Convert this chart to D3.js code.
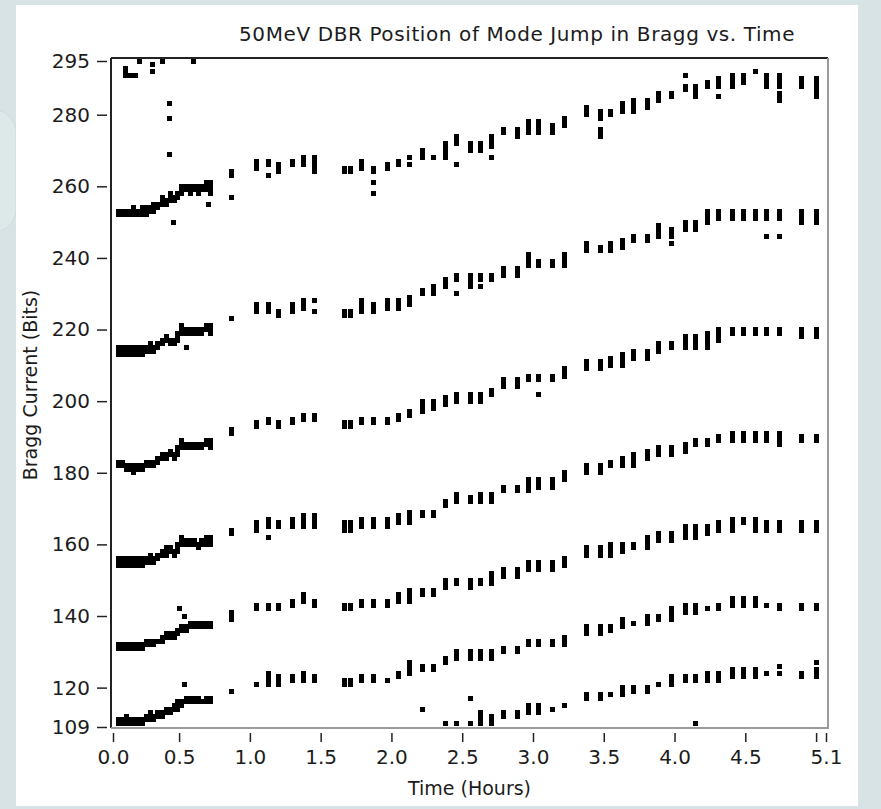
<!DOCTYPE html>
<html>
<head>
<meta charset="utf-8">
<script src="https://cdn.jsdelivr.net/npm/d3@7/dist/d3.min.js"></script>
<style>
  html, body { margin: 0; padding: 0; background: #d7e3e4; }
  svg { display: block; }
  text { font-family: "DejaVu Sans", sans-serif; fill: #1c1c1c; }
</style>
</head>
<body>
<svg id="chart" width="881" height="809"></svg>
<script>
// ---- data (Bragg current in bits, time in hours) ----

// axis limits and tick labels
const xMin = 0.033, xMax = 5.07;
const yMin = 109, yMax = 295;
const xTicks = [0.033, 0.5, 1.0, 1.5, 2.0, 2.5, 3.0, 3.5, 4.0, 4.5, 5.0, 5.07];
const xTickLabels = ["0.0", "0.5", "1.0", "1.5", "2.0", "2.5", "3.0", "3.5", "4.0", "4.5", "", "5.1"];
const yTicks = [109, 120, 140, 160, 180, 200, 220, 240, 260, 280, 295];
const yTickLabels = ["109", "120", "140", "160", "180", "200", "220", "240", "260", "280", "295"];

// first half hour is sampled densely
const denseTimes = [0.07, 0.10, 0.13, 0.15, 0.18, 0.21, 0.24, 0.27, 0.30, 0.32, 0.35, 0.38,
                    0.41, 0.44, 0.47, 0.49, 0.52, 0.55, 0.58, 0.61, 0.64, 0.66, 0.69, 0.72];

// after that one sweep roughly every 5 minutes
const sparseTimes = [0.87, 1.05, 1.13, 1.20, 1.30, 1.38, 1.46, 1.67, 1.71, 1.79, 1.87, 1.97,
                     2.05, 2.13, 2.22, 2.30, 2.38, 2.46, 2.56, 2.63, 2.71, 2.79, 2.89, 2.97,
                     3.04, 3.14, 3.22, 3.38, 3.48, 3.55, 3.63, 3.71, 3.81, 3.89, 3.98, 4.08,
                     4.15, 4.23, 4.31, 4.41, 4.49, 4.57, 4.65, 4.74, 4.90, 5.00];

// mode jump positions, one list of values per sample (top band first)
const band1Dense = [[252,253],[252,253],[252,253],[252,253],[252,253,254],[252,253],[252,253,254],[252,253,254],
  [253,254],[253,254,255],[254,255],[255,256,257],[255,256],[256,257,258],[256,257],[257,258],
  [258,259,260],[259,260],[258,259,260],[259,260],[258,259,260],[259,260],[259,260,261],[258,259,260,261]];
const band2Dense = [[213,214,215],[213,214,215],[213,214,215],[213,214,215],[213,214,215],[213,214,215],[213,214,215],[214,215],
  [214,215,216],[214,215],[215,216],[216,217],[217,218],[216,217],[216,217],[217,218,219],
  [219,220,221],[219,220],[219,220],[219,220],[219,220],[219,220],[220,221],[219,220,221]];
const band3Dense = [[182,183],[182,183],[181,182],[181,182],[180,181,182],[181,182],[181,182],[182,183],
  [182,183],[182,183],[183,184],[184,185],[184,185],[185,186],[184,185],[185,186,187],
  [187,188,189],[187,188],[187,188],[187,188],[187,188],[187,188],[188,189],[187,188,189]];
const band4Dense = [[154,155,156],[154,155,156],[154,155,156],[154,155,156],[154,155,156],[154,155,156],[154,155,156],[155,156],
  [155,156,157],[155,156],[156,157],[157,158],[157,158,159],[158,159],[157,158],[158,159,160],
  [160,161,162],[160,161],[160,161],[160,161],[159,160],[160,161],[160,161,162],[160,161,162]];
const band5Dense = [[131,132],[131,132],[131,132],[131,132],[131,132],[131,132],[131,132],[132,133],
  [132,133],[132,133],[133],[133,134],[134,135],[134,135],[134,135],[135,136],
  [136,137],[136,137],[137,138],[137,138],[137,138],[137,138],[137,138],[137,138]];
const band6Dense = [[110,111],[110,111],[110,111,112],[110,111],[110,111],[110,111],[110,111],[111,112],
  [111,112,113],[111,112],[112,113],[112,113],[113,114],[113,114],[114,115],[114,115,116],
  [115,116],[116,117],[116,117],[116,117],[116,117],[116],[116,117],[116,117]];

const band1Sparse = [[257,263,264],[265,266,267],[263,266,267],[264,265,266],[266,267],[266,267,268],[264,265,266,267,268],
  [264,265],[264,265],[265,266,267],[258,261,264,265],[265,266],[266,267],[266,268],[268,269,270],[268],
  [268,269,270,271,272],[266,272,273,274],[270,271,272],[270,271,272],[268,271,272,273,274],[275,276],[274,275,276],
  [275,276,277,278],[275,276,277,278],[275,276,277],[277,278,279],[280,281,282],[274,275,276,279,280,281],[280,281],
  [281,282,283],[281,282,283,284],[282,283,284],[284,285,286],[285,286],[287,288,291],[285,286,287,288],[288,289],
  [285,288,289,290],[288,289,290,291],[289,290,291],[292],[288,289,290,291],[284,285,286,288,289,290,291],
  [288,289,290],[285,286,287,288,289,290]];
const band2Sparse = [[223],[225,226,227],[225,226,227],[224,225],[225,226,227],[226,227,228],[225,228],
  [224,225],[224,225],[225,226,227,228],[225,226,227],[226,227,228],[226,227,228],[227,228,229],[230,231],[230,231,232],
  [232,233,234],[230,234,235],[232,233,234,235],[232,234,235],[234,235],[235,236,237],[235,236,237],
  [238,239,240,241],[238,239],[238,239],[238,239,240,241],[242,243,244],[242,243],[242,243,244],
  [243,244,245],[245,246],[245,246],[246,247,248,249],[244,246,247,248],[248,249,250],[248,249,250],[250,251,252,253],
  [251,252,253],[251,252,253],[251,252,253],[251,252,253],[246,251,252,253],[246,251,252,253],
  [250,251,252,253],[250,251,252,253]];
const band3Sparse = [[191,192],[193,194],[194,195],[193,194],[194,195],[195,196],[195,196],
  [193,194],[193,194],[194,195],[194,195],[194,195],[195,196],[196,197],[197,198,199,200],[198,199,200],
  [199,200,201],[200,201,202],[200,201,202],[200,201,202],[202,203],[204,205,206],[204,205,206],
  [206,207],[202,206,207],[206,207],[207,208,209],[209,210,211],[209,210,211],[210,211,212],
  [210,211,212,213],[212,213,214],[212,213,214],[214,215,216],[215,216],[215,216,217,218],[215,216,217,218],[215,216,217,218,219],
  [217,218,219,220],[219,220],[219,220],[219,220],[219,220],[219,220],
  [218,219,220],[218,219,220]];
const band4Sparse = [[163,164],[164,165,166],[162,165,166,167],[165,166],[165,166,167],[165,166,167,168],[165,166,167,168],
  [164,165,166],[164,165,166],[165,166,167],[165,166,167],[165,166,167],[166,167,168],[166,167,168,169],[168,169],[168,169],
  [171,172],[172,173,174],[172,173],[172,173,174],[172,173,174],[175,176],[175,176],
  [175,176,177,178],[176,177,178],[176,177,178],[178,179,180],[180,181,182],[180,181,182],[182,183],
  [182,183,184],[182,183,184,185],[184,185,186],[185,186,187],[185,186,187],[186,187,188],[188,189],[188,189],
  [189,190],[189,190,191],[189,190,191],[189,190,191],[189,190,191],[188,189,190,191],
  [189,190],[189,190]];
const band5Sparse = [[139,140,141],[142,143],[142,143],[142,143],[143,144],[144,145,146],[143,144],
  [142,143],[142,143],[143,144],[143,144],[143,144],[144,145,146],[144,145,146,147],[146,147],[146,147],
  [148,149,150],[149,150],[148,149,150],[149,150],[149,150,151,152],[151,152,153],[151,152,153],
  [153,154,155],[153,154,155],[153,154,155],[154,155,156],[157,158,159],[157,158,159],[157,158,159,160],
  [158,159,160],[159,160],[159,160,161,162],[161,162,163],[161,162,163],[162,163,164,165],[162,163,164,165],[163,164,165],
  [164,165,166],[164,165,166,167],[166,167],[164,165,166,167],[164,165,166],[164,165,166],
  [164,165,166],[164,165,166]];
const band6Sparse = [[119],[121],[121,122,123,124],[121,122,123],[122,123],[122,123,124],[122,123],
  [121,122],[121,122],[122,123],[122,123],[122],[123,124],[124,125,126,127],[125,126],[125,126],
  [127,128],[128,129,130],[128,129,130],[128,129,130],[128,129,130],[130,131],[130,131],
  [132,133],[132,133],[132,133],[132,133,134],[135,136,137],[135,136,137],[136,137],
  [137,138,139],[138],[138,139,140],[139,140],[139,140,141,142],[141,142,143],[141,142,143],[142],
  [142,143],[143,144,145],[143,144,145],[143,144,145],[143],[142,143],
  [142,143],[142,143]];
const band7Sparse = [[],[],[],[],[],[],[],
  [],[],[],[],[],[],[],[114],[],
  [110],[110],[110,117],[110,111,112,113],[110,111,112],[112,113],[112,113],
  [113,114,115],[113,114,115],[114],[115],[117,118],[117,118],[118],
  [118,119,120],[119,120],[119,120],[121],[121,122,123],[122,123],[110,122,123],[122,123,124],
  [122,123,124],[123,124,125],[123,124,125],[123,124,125],[124],[124,126],
  [123,124],[123,124,125,127]];

// stray readings (top band leaving the chart, and odd jumps) as [time, bits]
const strays = [[0.12,291],[0.12,292],[0.12,293],[0.16,291],[0.19,291],[0.22,295],[0.31,292],[0.31,294],
  [0.385,295],[0.60,295],[0.43,269],[0.43,279],[0.43,283],[0.46,250],[0.71,255],[0.55,215],
  [0.50,142],[0.54,140],[0.54,121]];

// ---- drawing ----
const W = 881, H = 809;
const plot = {left: 111, top: 58, right: 828, bottom: 728};

let svg = d3.select("#chart");

// desktop backdrop and the white panel
svg.append("rect").attr("width", W).attr("height", H).attr("fill", "#d7e3e4");
svg.append("rect")
    .attr("x", -30).attr("y", 110).attr("width", 46).attr("height", 122).attr("rx", 22)
    .attr("fill", "#dde8e9").attr("stroke", "#cddbdc");
svg.append("rect")
    .attr("x", 16).attr("y", 5).attr("width", 842).attr("height", 801)
    .attr("fill", "#ffffff");

let x = d3.scaleLinear().domain([xMin, xMax]).range([113, 826]);
let y = d3.scaleLinear().domain([yMin, yMax]).range([727, 61]);

// flatten every band into single points
let points = [];
let denseBands = [band1Dense, band2Dense, band3Dense, band4Dense, band5Dense, band6Dense];
let sparseBands = [band1Sparse, band2Sparse, band3Sparse, band4Sparse, band5Sparse, band6Sparse, band7Sparse];
denseBands.forEach(b => b.forEach((vals, i) => vals.forEach(v => points.push({t: denseTimes[i], v: v}))));
sparseBands.forEach(b => b.forEach((vals, i) => vals.forEach(v => points.push({t: sparseTimes[i], v: v}))));
strays.forEach(d => points.push({t: d[0], v: d[1]}));

svg.append("clipPath").attr("id", "plot-clip")
    .append("rect")
    .attr("x", plot.left + 1).attr("y", plot.top + 1)
    .attr("width", plot.right - plot.left - 2).attr("height", plot.bottom - plot.top - 2);

// plot frame: dark top/left, grey bottom/right
let frame = svg.append("g");
frame.append("line").attr("x1", plot.left).attr("x2", plot.right).attr("y1", plot.top).attr("y2", plot.top)
    .attr("stroke", "#222").attr("stroke-width", 2);
frame.append("line").attr("x1", plot.left).attr("x2", plot.left).attr("y1", plot.top).attr("y2", plot.bottom)
    .attr("stroke", "#222").attr("stroke-width", 2);
frame.append("line").attr("x1", plot.left).attr("x2", plot.right).attr("y1", plot.bottom).attr("y2", plot.bottom)
    .attr("stroke", "#9a9a9a").attr("stroke-width", 2);
frame.append("line").attr("x1", plot.right).attr("x2", plot.right).attr("y1", plot.top).attr("y2", plot.bottom + 1)
    .attr("stroke", "#9a9a9a").attr("stroke-width", 2);

// the markers: small filled squares
const ms = 5;
svg.append("g")
    .attr("clip-path", "url(#plot-clip)")
    .attr("shape-rendering", "crispEdges")
    .selectAll("rect")
    .data(points)
    .join("rect")
    .attr("x", d => Math.round(x(d.t) - ms / 2))
    .attr("y", d => Math.round(y(d.v) - ms / 2))
    .attr("width", ms)
    .attr("height", ms)
    .attr("fill", "#000");

// y axis, ticks float a little left of the frame
let yAxis = d3.axisLeft(y)
    .tickValues(yTicks)
    .tickFormat((d, i) => yTickLabels[i])
    .tickSize(10)
    .tickPadding(7);
let gy = svg.append("g").attr("transform", "translate(107,0)").call(yAxis);
gy.select(".domain").remove();
gy.selectAll("line").attr("stroke", "#222").attr("stroke-width", 1.5);
gy.selectAll("text").attr("font-size", 20).attr("font-family", "DejaVu Sans").attr("fill", "#1c1c1c");

// x axis
let xAxis = d3.axisBottom(x)
    .tickValues(xTicks)
    .tickFormat((d, i) => xTickLabels[i])
    .tickSize(9)
    .tickPadding(8);
let gx = svg.append("g").attr("transform", "translate(0,733)").call(xAxis);
gx.select(".domain").remove();
gx.selectAll("line").attr("stroke", "#222").attr("stroke-width", 1.5);
gx.selectAll("text").attr("font-size", 20).attr("font-family", "DejaVu Sans").attr("fill", "#1c1c1c");

// titles
svg.append("text")
    .attr("x", 239).attr("y", 41)
    .attr("font-size", 20)
    .attr("letter-spacing", 0.6)
    .text("50MeV DBR Position of Mode Jump in Bragg vs. Time");

svg.append("text")
    .attr("x", (113 + 826) / 2).attr("y", 795)
    .attr("text-anchor", "middle")
    .attr("font-size", 19)
    .text("Time (Hours)");

svg.append("text")
    .attr("transform", "translate(37,385) rotate(-90)")
    .attr("text-anchor", "middle")
    .attr("font-size", 19)
    .text("Bragg Current (Bits)");
</script>
</body>
</html>
